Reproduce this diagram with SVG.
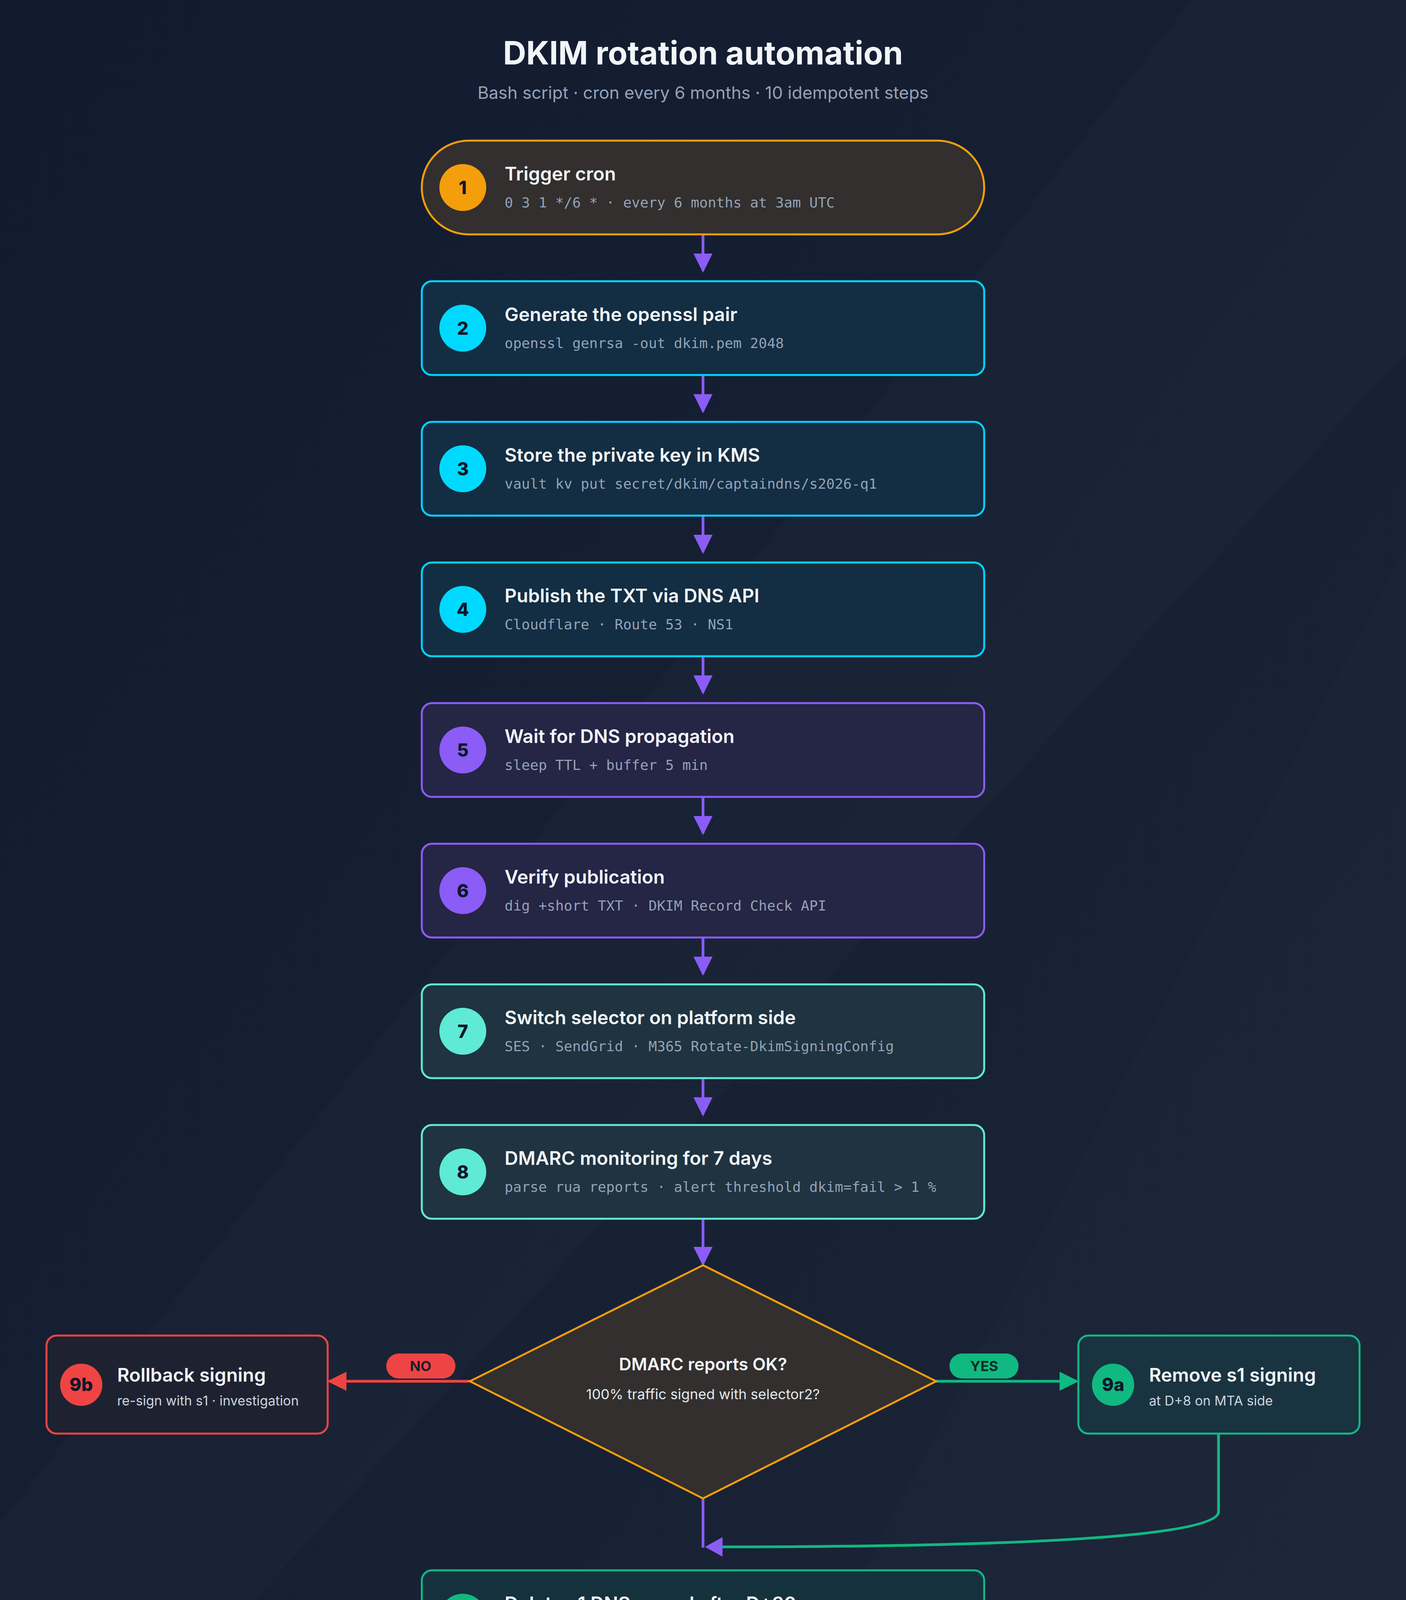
<svg xmlns="http://www.w3.org/2000/svg" width="3600" height="4800" viewBox="0 0 3600 4800">
<defs>
<linearGradient id="bg" x1="0" y1="0" x2="1" y2="1"><stop offset="0" stop-color="#111a2e"/><stop offset="1" stop-color="#1c2638"/></linearGradient>
<marker id="ap" viewBox="0 0 10 10" refX="9" refY="5" markerWidth="7" markerHeight="7" orient="auto" markerUnits="strokeWidth"><path d="M0,0L10,5L0,10z" fill="#8b5cf6"/></marker>
<marker id="ar" viewBox="0 0 10 10" refX="9" refY="5" markerWidth="7" markerHeight="7" orient="auto" markerUnits="strokeWidth"><path d="M0,0L10,5L0,10z" fill="#ef4444"/></marker>
<marker id="ag" viewBox="0 0 10 10" refX="9" refY="5" markerWidth="7" markerHeight="7" orient="auto" markerUnits="strokeWidth"><path d="M0,0L10,5L0,10z" fill="#10b981"/></marker>
<style>
.t{font-family:Inter,"Liberation Sans",sans-serif;font-weight:600;fill:#f1f5f9;font-size:48px}
.s{font-family:"DejaVu Sans Mono","Liberation Mono",monospace;fill:#94a3b8;font-size:36px}
.n{font-family:Inter,"Liberation Sans",sans-serif;font-weight:800;fill:#0f172a;font-size:46px;text-anchor:middle}
.ss{font-family:Inter,"Liberation Sans",sans-serif;fill:#cbd5e1;font-size:34px}
.c{fill:none;stroke-width:7}
</style>
</defs>
<rect width="3600" height="4800" fill="url(#bg)"/>
<polygon points="3050,0 3600,0 3600,900 0,4800 0,3900" fill="#ffffff" opacity="0.015"/>
<polygon points="3600,1400 3600,4800 1800,4800" fill="#ffffff" opacity="0.012"/>
<text x="1800" y="165" text-anchor="middle" font-family="Inter,'Liberation Sans',sans-serif" font-weight="700" font-size="82" fill="#f1f5f9">DKIM rotation automation</text>
<text x="1800" y="253" text-anchor="middle" font-family="Inter,'Liberation Sans',sans-serif" font-size="44" fill="#94a3b8">Bash script · cron every 6 months · 10 idempotent steps</text>

<g id="connectors">
<line class="c" stroke="#8b5cf6" x1="1800" y1="600" x2="1800" y2="693" marker-end="url(#ap)"/>
<line class="c" stroke="#8b5cf6" x1="1800" y1="960" x2="1800" y2="1053" marker-end="url(#ap)"/>
<line class="c" stroke="#8b5cf6" x1="1800" y1="1320" x2="1800" y2="1413" marker-end="url(#ap)"/>
<line class="c" stroke="#8b5cf6" x1="1800" y1="1680" x2="1800" y2="1773" marker-end="url(#ap)"/>
<line class="c" stroke="#8b5cf6" x1="1800" y1="2040" x2="1800" y2="2133" marker-end="url(#ap)"/>
<line class="c" stroke="#8b5cf6" x1="1800" y1="2400" x2="1800" y2="2493" marker-end="url(#ap)"/>
<line class="c" stroke="#8b5cf6" x1="1800" y1="2760" x2="1800" y2="2853" marker-end="url(#ap)"/>
<line class="c" stroke="#8b5cf6" x1="1800" y1="3120" x2="1800" y2="3236" marker-end="url(#ap)"/>
<line class="c" stroke="#ef4444" x1="1203" y1="3536" x2="843" y2="3536" marker-end="url(#ar)"/>
<line class="c" stroke="#10b981" x1="2397" y1="3536" x2="2757" y2="3536" marker-end="url(#ag)"/>
<line class="c" stroke="#8b5cf6" x1="1800" y1="3836" x2="1800" y2="3962"/>
<path class="c" stroke="#10b981" d="M3120,3670 L3120,3870 C3120,3935 2600,3960 1840,3960"/>
<path d="M1805,3960 L1850,3935 L1850,3985 Z" fill="#8b5cf6"/>
<line class="c" stroke="#8b5cf6" x1="1800" y1="4260" x2="1800" y2="4353" marker-end="url(#ap)"/>
<rect x="989" y="3465" width="177" height="64" rx="32" fill="#ef4444"/>
<text x="1077" y="3510" text-anchor="middle" font-family="Inter,'Liberation Sans',sans-serif" font-weight="700" font-size="36" fill="#1e1e2e">NO</text>
<rect x="2431" y="3465" width="177" height="64" rx="32" fill="#10b981"/>
<text x="2520" y="3510" text-anchor="middle" font-family="Inter,'Liberation Sans',sans-serif" font-weight="700" font-size="36" fill="#0f2a22">YES</text>
</g>

<g id="n1"><rect x="1080" y="360" width="1440" height="240" rx="120" fill="#322f2e" stroke="#f59e0b" stroke-width="5"/><circle cx="1185" cy="480" r="60" fill="#f59e0b"/><text class="n" x="1185" y="497">1</text><text class="t" x="1292" y="462">Trigger cron</text><text class="s" x="1292" y="531">0 3 1 */6 * · every 6 months at 3am UTC</text></g>
<g id="n2"><rect x="1080" y="720" width="1440" height="240" rx="26" fill="#132d42" stroke="#00d4ff" stroke-width="5"/><circle cx="1185" cy="840" r="60" fill="#00d9ff"/><text class="n" x="1185" y="857">2</text><text class="t" x="1292" y="822">Generate the openssl pair</text><text class="s" x="1292" y="891">openssl genrsa -out dkim.pem 2048</text></g>
<g id="n3"><rect x="1080" y="1080" width="1440" height="240" rx="26" fill="#132d42" stroke="#00d4ff" stroke-width="5"/><circle cx="1185" cy="1200" r="60" fill="#00d9ff"/><text class="n" x="1185" y="1217">3</text><text class="t" x="1292" y="1182">Store the private key in KMS</text><text class="s" x="1292" y="1251">vault kv put secret/dkim/captaindns/s2026-q1</text></g>
<g id="n4"><rect x="1080" y="1440" width="1440" height="240" rx="26" fill="#132d42" stroke="#00d4ff" stroke-width="5"/><circle cx="1185" cy="1560" r="60" fill="#00d9ff"/><text class="n" x="1185" y="1577">4</text><text class="t" x="1292" y="1542">Publish the TXT via DNS API</text><text class="s" x="1292" y="1611">Cloudflare · Route 53 · NS1</text></g>
<g id="n5"><rect x="1080" y="1800" width="1440" height="240" rx="26" fill="#252545" stroke="#8b5cf6" stroke-width="5"/><circle cx="1185" cy="1920" r="60" fill="#8b5cf6"/><text class="n" x="1185" y="1937">5</text><text class="t" x="1292" y="1902">Wait for DNS propagation</text><text class="s" x="1292" y="1971">sleep TTL + buffer 5 min</text></g>
<g id="n6"><rect x="1080" y="2160" width="1440" height="240" rx="26" fill="#252545" stroke="#8b5cf6" stroke-width="5"/><circle cx="1185" cy="2280" r="60" fill="#8b5cf6"/><text class="n" x="1185" y="2297">6</text><text class="t" x="1292" y="2262">Verify publication</text><text class="s" x="1292" y="2331">dig +short TXT · DKIM Record Check API</text></g>
<g id="n7"><rect x="1080" y="2520" width="1440" height="240" rx="26" fill="#1f3340" stroke="#5eead4" stroke-width="5"/><circle cx="1185" cy="2640" r="60" fill="#5eead4"/><text class="n" x="1185" y="2657">7</text><text class="t" x="1292" y="2622">Switch selector on platform side</text><text class="s" x="1292" y="2691">SES · SendGrid · M365 Rotate-DkimSigningConfig</text></g>
<g id="n8"><rect x="1080" y="2880" width="1440" height="240" rx="26" fill="#1f3340" stroke="#5eead4" stroke-width="5"/><circle cx="1185" cy="3000" r="60" fill="#5eead4"/><text class="n" x="1185" y="3017">8</text><text class="t" x="1292" y="2982">DMARC monitoring for 7 days</text><text class="s" x="1292" y="3051">parse rua reports · alert threshold dkim=fail &gt; 1 %</text></g>
<g id="n9"><polygon points="1800,3239 2397,3536 1800,3836 1203,3536" fill="#322f2e" stroke="#f59e0b" stroke-width="5"/><text x="1800" y="3508" text-anchor="middle" font-family="Inter,'Liberation Sans',sans-serif" font-weight="600" font-size="44" fill="#f1f5f9">DMARC reports OK?</text><text x="1800" y="3582" text-anchor="middle" font-family="Inter,'Liberation Sans',sans-serif" font-size="36" fill="#e2e8f0">100% traffic signed with selector2?</text></g>
<g id="n9b"><rect x="119" y="3419" width="720" height="251" rx="26" fill="#1e2230" stroke="#ef4444" stroke-width="5"/><circle cx="208" cy="3545" r="54" fill="#ef4444"/><text class="n" x="208" y="3561" font-size="44">9b</text><text class="t" x="300" y="3537" font-size="43">Rollback signing</text><text class="ss" x="300" y="3598">re-sign with s1 · investigation</text></g>
<g id="n9a"><rect x="2761" y="3419" width="720" height="251" rx="26" fill="#1a3340" stroke="#10b981" stroke-width="5"/><circle cx="2850" cy="3545" r="54" fill="#10b981"/><text class="n" x="2850" y="3561" font-size="44">9a</text><text class="t" x="2942" y="3537" font-size="43">Remove s1 signing</text><text class="ss" x="2942" y="3598">at D+8 on MTA side</text></g>
<g id="n10"><rect x="1080" y="4020" width="1440" height="240" rx="26" fill="#15313d" stroke="#10b981" stroke-width="5"/><circle cx="1185" cy="4140" r="60" fill="#10b981"/><text class="n" x="1185" y="4157">10</text><text class="t" x="1292" y="4122">Delete s1 DNS record after D+30</text><text class="s" x="1292" y="4191">cleanup TXT s2025-q4 · destroy KMS private key</text></g>
<g id="end"><rect x="1350" y="4380" width="900" height="180" rx="90" fill="#22404f" stroke="#5eead4" stroke-width="5"/><text x="1800" y="4488" text-anchor="middle" font-family="Inter,'Liberation Sans',sans-serif" font-weight="600" font-size="48" fill="#f1f5f9">Rotation complete</text></g>
<text x="1800" y="4702" text-anchor="middle" font-family="Inter,'Liberation Sans',sans-serif" font-weight="600" font-size="40" fill="#3b4658">CaptainDNS · DKIM rotation automation flowchart</text>
</svg>
